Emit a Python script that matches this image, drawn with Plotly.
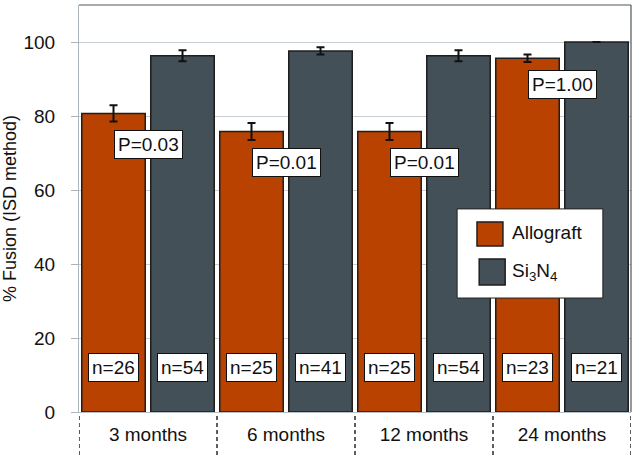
import plotly.graph_objects as go

categories = ["3 months", "6 months", "12 months", "24 months"]
allograft = [80.7, 75.8, 75.8, 95.6]
allograft_err = [2.2, 2.3, 2.3, 1.0]
si3n4 = [96.3, 97.6, 96.3, 100.0]
si3n4_err = [1.5, 1.0, 1.5, 0.0]
n_allograft = [26, 25, 25, 23]
n_si3n4 = [54, 41, 54, 21]
p_values = ["P=0.03", "P=0.01", "P=0.01", "P=1.00"]
y_ticks = [0, 20, 40, 60, 80, 100]

ORANGE = "#B94200"
SLATE = "#435057"
OUTLINE = "#1e1e1e"
FONT = "Liberation Sans, Arial, Helvetica, sans-serif"

xs = list(range(len(categories)))

fig = go.Figure()
fig.add_trace(go.Bar(
    x=xs, y=allograft, name="Allograft",
    marker=dict(color=ORANGE, line=dict(color=OUTLINE, width=1.5)),
    error_y=dict(type="data", array=allograft_err, color="#111111", thickness=2, width=4),
    showlegend=False,
))
fig.add_trace(go.Bar(
    x=xs, y=si3n4, name="Si<sub>3</sub>N<sub>4</sub>",
    marker=dict(color=SLATE, line=dict(color=OUTLINE, width=1.5)),
    error_y=dict(type="data", array=si3n4_err, color="#111111", thickness=2, width=4),
    showlegend=False,
))

annotations = []
box = dict(bgcolor="white", bordercolor="#111111", borderwidth=1, borderpad=3,
           font=dict(family=FONT, size=19, color="#111111"), showarrow=False)
for i in xs:
    annotations.append(dict(x=i - 0.25, y=12, xref="x", yref="y", text=f"n={n_allograft[i]}", **box))
    annotations.append(dict(x=i + 0.25, y=12, xref="x", yref="y", text=f"n={n_si3n4[i]}", **box))
    annotations.append(dict(x=i, y=allograft[i] - allograft_err[i], xref="x", yref="y",
                            yanchor="top", yshift=-8, text=p_values[i], **box))

# custom legend
lx0, lx1, ly0, ly1 = 0.685, 0.949, 0.280, 0.499
shapes = [
    dict(type="rect", xref="paper", yref="paper", x0=lx0, x1=lx1, y0=ly0, y1=ly1,
         fillcolor="white", line=dict(color="#222222", width=1), layer="above"),
    dict(type="rect", xref="paper", yref="paper", x0=0.721, x1=0.768, y0=0.408, y1=0.467,
         fillcolor=ORANGE, line=dict(color=OUTLINE, width=1.5), layer="above"),
    dict(type="rect", xref="paper", yref="paper", x0=0.725, x1=0.772, y0=0.312, y1=0.376,
         fillcolor=SLATE, line=dict(color=OUTLINE, width=1.5), layer="above"),
    # frame top and right
    dict(type="line", xref="paper", yref="paper", x0=0, x1=1, y0=1, y1=1,
         line=dict(color="#4a565c", width=1.2)),
    dict(type="line", xref="paper", yref="paper", x0=1, x1=1, y0=0, y1=1,
         line=dict(color="#4a565c", width=1.2)),
]
for b in range(len(categories) + 1):
    shapes.append(dict(type="line", xref="x", yref="paper", x0=b - 0.5, x1=b - 0.5,
                       y0=-0.01, y1=-0.12, line=dict(color="#2a2a2a", width=1.5, dash="4px,3px")))

annotations.append(dict(x=0.781, y=0.440, xref="paper", yref="paper", xanchor="left",
                        text="Allograft", showarrow=False,
                        font=dict(family=FONT, size=19, color="#111111")))
annotations.append(dict(x=0.781, y=0.344, xref="paper", yref="paper", xanchor="left",
                        text="Si<sub>3</sub>N<sub>4</sub>", showarrow=False,
                        font=dict(family=FONT, size=19, color="#111111")))

fig.update_layout(
    width=634, height=456,
    margin=dict(l=79, r=3, t=5, b=44),
    paper_bgcolor="white", plot_bgcolor="white",
    barmode="group", bargap=0.0, bargroupgap=0.08,
    font=dict(family=FONT, size=19, color="#111111"),
    annotations=annotations, shapes=shapes,
    xaxis=dict(range=[-0.5, len(categories) - 0.5], tickvals=xs, ticktext=categories,
               showgrid=False, zeroline=False, showline=True, linecolor="#b5bfc4",
               ticks="", tickfont=dict(size=19), ticklabelstandoff=5, automargin=False),
    yaxis=dict(range=[0, 110], tickvals=y_ticks, showgrid=True, gridcolor="#c6cfd3",
               zeroline=False, showline=True, linecolor="#a9b5ba", ticks="outside",
               ticklen=7, tickcolor="#a9b5ba", tickfont=dict(size=19), ticklabelstandoff=12,
               automargin=False,
               title=dict(text="% Fusion (ISD method)", font=dict(size=18), standoff=4)),
)

fig.write_html("out.html", config={"displayModeBar": False},
               post_script="document.body.style.margin='0';")
